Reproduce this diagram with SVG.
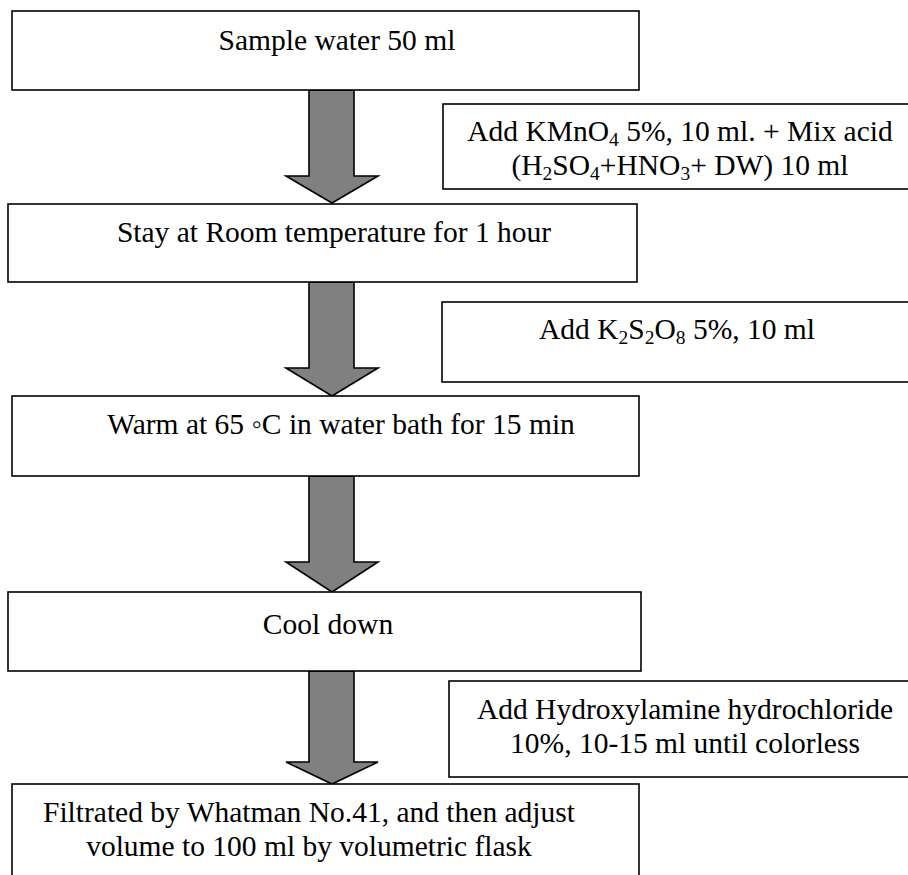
<svg xmlns="http://www.w3.org/2000/svg" width="908" height="875" viewBox="0 0 908 875">
  <style>
    .box { fill: #ffffff; stroke: #000000; stroke-width: 1.6; }
    .arrow { fill: #808080; stroke: #000000; stroke-width: 1.6; stroke-linejoin: miter; }
    .t { font-family: "Liberation Serif", "Times New Roman", serif; font-size: 29.5px; fill: #000000; text-anchor: middle; }
    .sub { font-size: 19.5px; }
  </style>
  <rect width="908" height="875" fill="#ffffff"/>

  <!-- block arrows between the steps -->
  <g id="connectors">
    <polygon class="arrow" points="309,90 354,90 354,176 378,176 332,203 286,176 309,176"/>
    <polygon class="arrow" points="309,282 354,282 354,368 378,368 332,396 286,368 309,368"/>
    <polygon class="arrow" points="309,476 354,476 354,562 378,562 332,592 286,562 309,562"/>
    <polygon class="arrow" points="309,671 354,671 354,762 378,762 332,784 286,762 309,762"/>
  </g>

  <g id="step-sample">
    <rect class="box" x="12" y="11" width="627" height="79"/>
    <text class="t" x="337" y="50">Sample water 50 ml</text>
  </g>

  <g id="reagent-kmno4">
    <rect class="box" x="443" y="104" width="480" height="85"/>
    <text class="t" x="680" y="141">Add KMnO<tspan class="sub" dy="5">4</tspan><tspan dy="-5"> 5%, 10 ml. + Mix acid</tspan></text>
    <text class="t" x="680" y="175">(H<tspan class="sub" dy="5">2</tspan><tspan dy="-5">SO</tspan><tspan class="sub" dy="5">4</tspan><tspan dy="-5">+HNO</tspan><tspan class="sub" dy="5">3</tspan><tspan dy="-5">+ DW) 10 ml</tspan></text>
  </g>

  <g id="step-stay">
    <rect class="box" x="8" y="204" width="629" height="78"/>
    <text class="t" x="334" y="242">Stay at Room temperature for 1 hour</text>
  </g>

  <g id="reagent-persulfate">
    <rect class="box" x="442" y="302" width="480" height="80"/>
    <text class="t" x="677" y="339">Add K<tspan class="sub" dy="5">2</tspan><tspan dy="-5">S</tspan><tspan class="sub" dy="5">2</tspan><tspan dy="-5">O</tspan><tspan class="sub" dy="5">8</tspan><tspan dy="-5"> 5%, 10 ml</tspan></text>
  </g>

  <g id="step-warm">
    <rect class="box" x="12" y="396" width="627" height="80"/>
    <text class="t" x="341" y="434">Warm at 65 ◦C in water bath for 15 min</text>
  </g>

  <g id="step-cool">
    <rect class="box" x="8" y="592" width="633" height="79"/>
    <text class="t" x="328" y="634">Cool down</text>
  </g>

  <g id="reagent-hydroxylamine">
    <rect class="box" x="449" y="681" width="480" height="96"/>
    <text class="t" x="685" y="719">Add Hydroxylamine hydrochloride</text>
    <text class="t" x="685" y="753">10%, 10-15 ml until colorless</text>
  </g>

  <g id="step-filter">
    <rect class="box" x="12" y="784" width="627" height="120"/>
    <text class="t" x="309" y="822">Filtrated by Whatman No.41, and then adjust</text>
    <text class="t" x="309" y="856">volume to 100 ml by volumetric flask</text>
  </g>
</svg>
